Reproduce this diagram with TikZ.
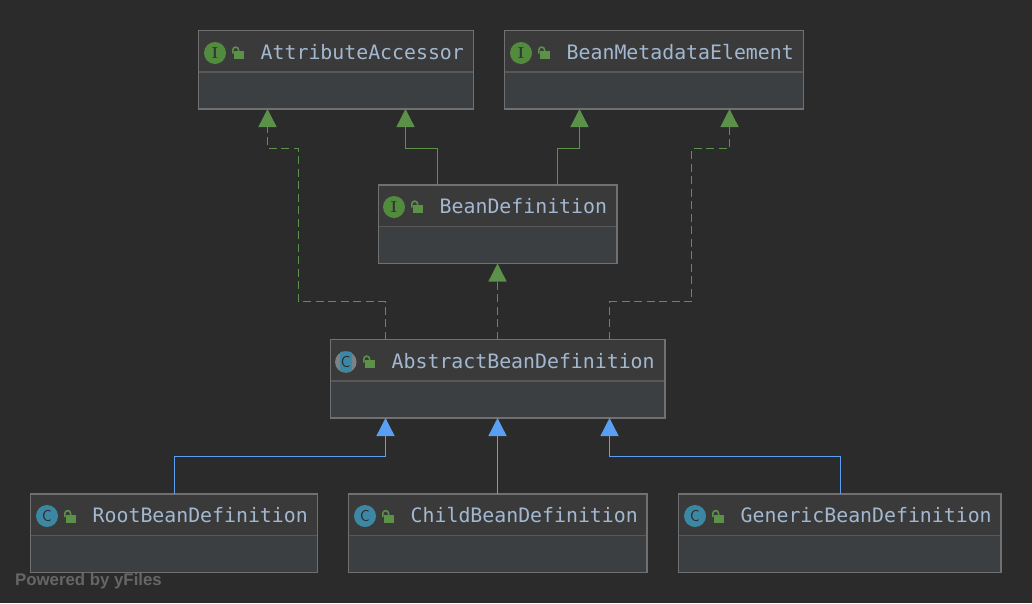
\documentclass[tikz,border=0pt]{standalone}
\usepackage{fontspec}
\setmonofont{DejaVu Sans Mono}
\newfontfamily\yfont{Liberation Sans}
\usetikzlibrary{arrows.meta,calc}
\definecolor{bgc}{HTML}{2B2B2B}
\definecolor{headc}{HTML}{3A3A3A}
\definecolor{lowc}{HTML}{3C3F41}
\definecolor{edgec}{HTML}{707070}
\definecolor{divc}{HTML}{585858}
\definecolor{txtc}{HTML}{A3B8D0}
\definecolor{greenc}{HTML}{5B9148}
\definecolor{bluec}{HTML}{5A9FF2}
\definecolor{ifacec}{HTML}{538B3E}
\definecolor{classc}{HTML}{3C88A4}
\definecolor{darkc}{HTML}{2F3A30}
\definecolor{ringc}{HTML}{7D8286}
\definecolor{yfc}{HTML}{666666}
\tikzset{
  umlbox/.style={draw=edgec,fill=lowc,line width=1.2pt,anchor=north west,inner sep=0pt,outer sep=0pt,minimum height=78.5pt},
  umltext/.style={anchor=base west,inner sep=0pt,text=txtc,font=\ttfamily\fontsize{19.85}{20}\selectfont},
  impl/.style={greenc,line width=1.35pt,dash pattern=on 8pt off 4.5pt,-{Triangle[width=18pt,length=18pt]}},
  ext/.style={greenc,line width=1.35pt,-{Triangle[width=18pt,length=18pt]}},
  extb/.style={bluec,line width=1.35pt,-{Triangle[width=18pt,length=18pt]}},
  iconI/.style={circle,fill=ifacec,minimum size=22pt,inner sep=0pt,text=darkc,font=\fontsize{16}{16}\selectfont\bfseries},
  iconC/.style={circle,fill=classc,minimum size=22pt,inner sep=0pt,text=bgc,font=\sffamily\fontsize{16}{16}\selectfont},
}
% header band + divider of a box
\newcommand{\headband}[1]{%
  \fill[headc] ($(#1.north west)+(.6,.6)$) rectangle ($(#1.north east)+(-.6,41.5)$);
  \draw[divc,line width=1.1pt] ($(#1.north west)+(.6,41.5)$) -- ($(#1.north east)+(-.6,41.5)$);
}
% open padlock: #1,#2 = left of the shackle, top of the body
\newcommand{\padlock}[2]{%
  \fill[greenc] (#1+2.3,#2) rectangle (#1+11.7,#2+8);
  \draw[greenc,line width=1.6pt] (#1+.8,#2+2.5) -- (#1+.8,#2-1) arc[start angle=180,end angle=0,x radius=2.9,y radius=-2.9] -- (#1+6.6,#2+.5);
}
\begin{document}
\begin{tikzpicture}[x=1pt,y=-1pt]
\useasboundingbox (0,0) rectangle (1032,603);
\fill[bgc] (0,0) rectangle (1032,603);

\node[umlbox,minimum width=275pt] (attr) at (198.5,30.5) {};
\node[umlbox,minimum width=299pt] (meta) at (504.5,30.5) {};
\node[umlbox,minimum width=238.5pt] (bdef) at (378.5,185) {};
\node[umlbox,minimum width=334.5pt] (abst) at (330.5,339.5) {};
\node[umlbox,minimum width=287pt] (root) at (30.5,494) {};
\node[umlbox,minimum width=298.5pt] (child) at (348.5,494) {};
\node[umlbox,minimum width=322.5pt] (gen) at (678.5,494) {};
\headband{attr}\headband{meta}\headband{bdef}\headband{abst}\headband{root}\headband{child}\headband{gen}

\node[iconI] (iattr) at (215,53) {I};
\node[iconI] (imeta) at (521,53) {I};
\node[iconI] (ibdef) at (394,207) {I};
\node[circle,fill=ringc,minimum size=21.5pt,inner sep=0pt] (iabst) at (345.8,362) {};
\fill[classc,rounded corners=2pt] (339.8,351.7) rectangle (352,372);
\node[inner sep=0pt,text=bgc,font=\sffamily\fontsize{16}{16}\selectfont] (cabst) at (345.8,362) {C};
\node[iconC] (iroot) at (47,516) {C};
\node[iconC] (ichild) at (365,516) {C};
\node[iconC] (igen) at (695,516) {C};

\padlock{232}{51}\padlock{538}{51}\padlock{411}{205}\padlock{363}{360}
\padlock{64}{514.5}\padlock{382}{514.5}\padlock{712}{514.5}

\node[umltext] (tattr) at (260.5,59) {AttributeAccessor};
\node[umltext] (tmeta) at (566.5,59) {BeanMetadataElement};
\node[umltext] (tbdef) at (439.5,213) {BeanDefinition};
\node[umltext] (tabst) at (391.5,368) {AbstractBeanDefinition};
\node[umltext] (troot) at (92.5,522) {RootBeanDefinition};
\node[umltext] (tchild) at (410.5,522) {ChildBeanDefinition};
\node[umltext] (tgen) at (740.5,522) {GenericBeanDefinition};

\draw[impl] (abst.north -| 385.5,0) |- (298.5,301.5) |- (267.5,148.5) -- (attr.south -| 267.5,0);
\draw[ext] (bdef.north -| 437.5,0) |- (405.5,148.5) -- (attr.south -| 405.5,0);
\draw[ext] (bdef.north -| 557.5,0) |- (579.5,148.5) -- (meta.south -| 579.5,0);
\draw[impl] (abst.north -| 609.5,0) |- (691.5,301.5) |- (729.5,148.5) -- (meta.south -| 729.5,0);
\draw[impl] (abst.north -| 497.5,0) -- (bdef.south -| 497.5,0);
\draw[extb] (root.north -| 174.5,0) |- (385.5,456.5) -- (abst.south -| 385.5,0);
\draw[extb] (child.north -| 497.5,0) -- (abst.south -| 497.5,0);
\draw[extb] (gen.north -| 840.5,0) |- (609.5,456.5) -- (abst.south -| 609.5,0);

\node[anchor=base west,inner sep=0pt,text=yfc,font=\yfont\bfseries\fontsize{16.8}{18}\selectfont] (yf) at (15,585) {Powered by yFiles};
\end{tikzpicture}
\end{document}
